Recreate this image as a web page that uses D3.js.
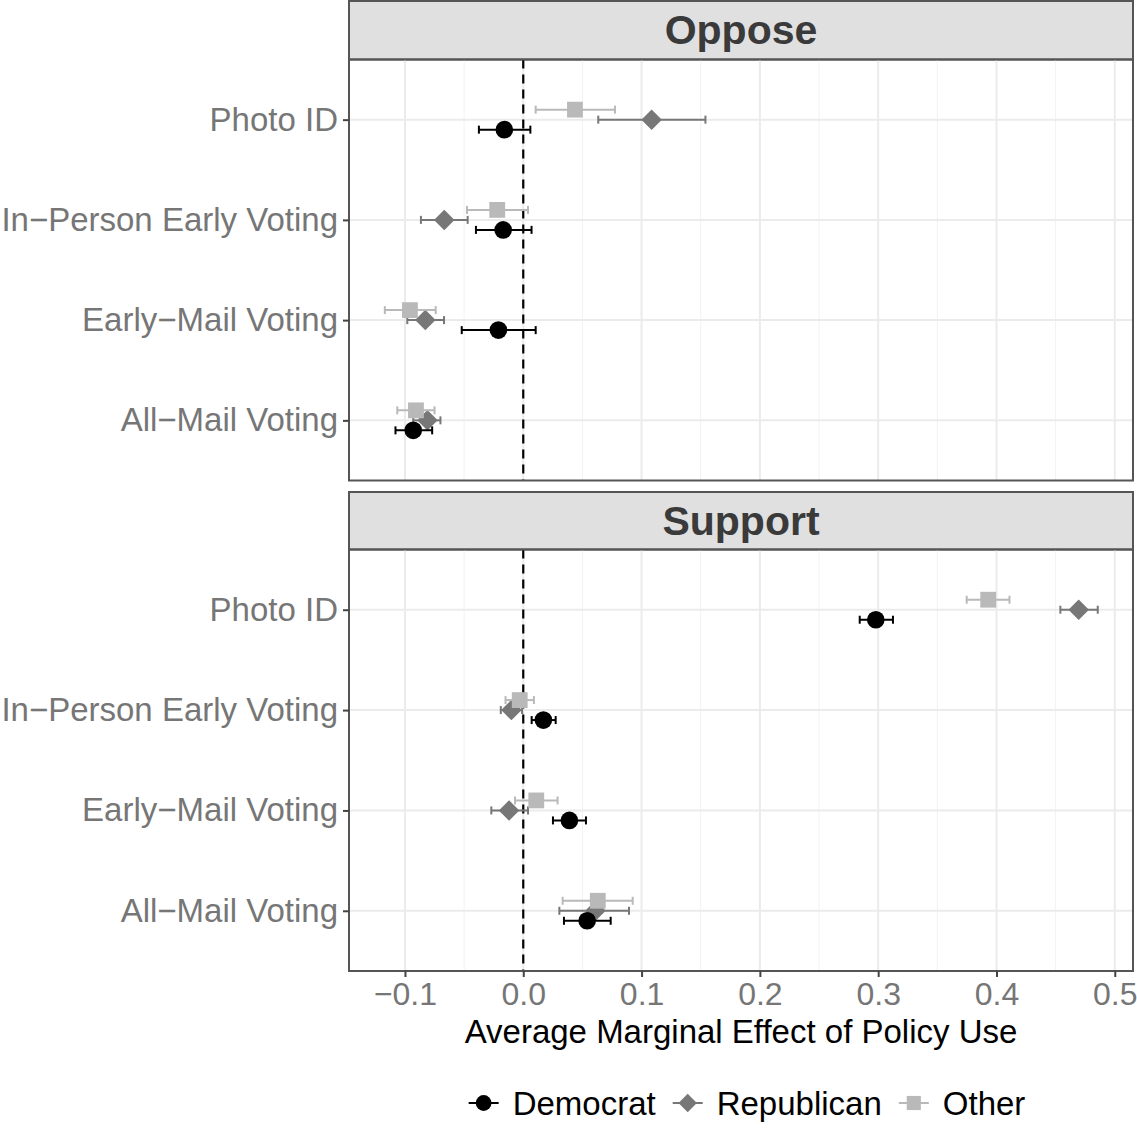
<!DOCTYPE html>
<html>
<head>
<meta charset="utf-8">
<script src="https://cdn.jsdelivr.net/npm/d3@7"></script>
<style>
  body { margin: 0; background: #fff; }
  svg { display: block; font-family: "Liberation Sans", Arial, Helvetica, sans-serif; }
</style>
</head>
<body>
<svg id="chart" width="1137" height="1132"></svg>
<script>
// 数据
const categories = ["Photo ID", "In\u2212Person Early Voting", "Early\u2212Mail Voting", "All\u2212Mail Voting"];
const parties = ["Democrat", "Republican", "Other"];
const panels = ["Oppose", "Support"];
const xTicks = [-0.1, 0.0, 0.1, 0.2, 0.3, 0.4, 0.5];

// Oppose
const opposeDemocrat = [-0.016, -0.017, -0.021, -0.093];
const opposeDemocratLow = [-0.0375, -0.040, -0.052, -0.108];
const opposeDemocratHigh = [0.006, 0.007, 0.0105, -0.077];
const opposeRepublican = [0.1085, -0.0668, -0.0828, -0.081];
const opposeRepublicanLow = [0.0634, -0.0865, -0.098, -0.093];
const opposeRepublicanHigh = [0.154, -0.047, -0.067, -0.070];
const opposeOther = [0.0437, -0.022, -0.0958, -0.0907];
const opposeOtherLow = [0.0105, -0.0476, -0.117, -0.1065];
const opposeOtherHigh = [0.0775, 0.004, -0.074, -0.075];

// Support
const supportDemocrat = [0.298, 0.017, 0.039, 0.054];
const supportDemocratLow = [0.2844, 0.0071, 0.0251, 0.0344];
const supportDemocratHigh = [0.3125, 0.0274, 0.053, 0.0739];
const supportRepublican = [0.4695, -0.010, -0.012, 0.061];
const supportRepublicanLow = [0.454, -0.019, -0.027, 0.0305];
const supportRepublicanHigh = [0.4856, -0.001, 0.004, 0.0894];
const supportOther = [0.393, -0.003, 0.011, 0.063];
const supportOtherLow = [0.3748, -0.015, -0.007, 0.0333];
const supportOtherHigh = [0.411, 0.009, 0.029, 0.0925];

const seriesTable = {
    Oppose: {
        Democrat: [opposeDemocrat, opposeDemocratLow, opposeDemocratHigh],
        Republican: [opposeRepublican, opposeRepublicanLow, opposeRepublicanHigh],
        Other: [opposeOther, opposeOtherLow, opposeOtherHigh]
    },
    Support: {
        Democrat: [supportDemocrat, supportDemocratLow, supportDemocratHigh],
        Republican: [supportRepublican, supportRepublicanLow, supportRepublicanHigh],
        Other: [supportOther, supportOtherLow, supportOtherHigh]
    }
};

const colors = { Democrat: "#000000", Republican: "#777777", Other: "#b9b9b9" };
// 菱形 = 旋转45度的正方形
const shapes = { Democrat: d3.symbolCircle, Republican: d3.symbolSquare, Other: d3.symbolSquare };
const sizes = { Democrat: 245, Republican: 210, Other: 250 };
const rot = party => party === "Republican" ? " rotate(45)" : "";

const svg = d3.select("#chart");

const left = 349, right = 1133;
const panelBoxes = [
    { name: "Oppose", stripTop: 1, top: 59.5, bottom: 480.5 },
    { name: "Support", stripTop: 492, top: 549.5, bottom: 971 }
];

const x = d3.scaleLinear().domain([-0.1473, 0.5154]).range([left, right]);
const dodge = d3.scalePoint().domain(parties).range([10, -10]);
const fmt = d3.format(".1f");
const minorTicks = d3.range(-0.15, 0.55, 0.1).map(v => +v.toFixed(2)).filter(v => x(v) > left && x(v) < right);

panelBoxes.forEach(p => {
    const y = d3.scalePoint().domain(categories).range([p.top, p.bottom]).padding(0.6);
    const g = svg.append("g");

    // 条带
    g.append("rect")
        .attr("x", left).attr("y", p.stripTop)
        .attr("width", right - left).attr("height", p.top - p.stripTop)
        .attr("fill", "#e0e0e0").attr("stroke", "#555").attr("stroke-width", 2);
    g.append("text")
        .attr("x", (left + right) / 2).attr("y", (p.stripTop + p.top) / 2 + 14)
        .attr("text-anchor", "middle")
        .style("font-size", "41px").style("font-weight", "bold").style("fill", "#3a3a3a")
        .text(p.name);

    // 网格线
    g.selectAll(".minor").data(minorTicks).enter().append("line")
        .attr("x1", d => x(d)).attr("x2", d => x(d))
        .attr("y1", p.top).attr("y2", p.bottom)
        .attr("stroke", "#f2f2f2").attr("stroke-width", 1);
    g.selectAll(".major").data(xTicks).enter().append("line")
        .attr("x1", d => x(d)).attr("x2", d => x(d))
        .attr("y1", p.top).attr("y2", p.bottom)
        .attr("stroke", "#ebebeb").attr("stroke-width", 2);
    g.selectAll(".hgrid").data(categories).enter().append("line")
        .attr("x1", left).attr("x2", right)
        .attr("y1", d => y(d)).attr("y2", d => y(d))
        .attr("stroke", "#ebebeb").attr("stroke-width", 2);

    // 零线
    g.append("line")
        .attr("x1", x(0)).attr("x2", x(0))
        .attr("y1", p.top).attr("y2", p.bottom)
        .attr("stroke", "#000").attr("stroke-width", 2.2)
        .attr("stroke-dasharray", "9,6");

    // 误差线与点
    const order = ["Republican", "Other", "Democrat"];
    order.forEach(party => {
        const [est, lo, hi] = seriesTable[p.name][party];
        const rows = categories.map((c, i) => ({ c, est: est[i], lo: lo[i], hi: hi[i] }));
        const yy = d => y(d.c) + dodge(party);
        const col = colors[party];
        const bars = g.append("g");
        bars.selectAll(".bar").data(rows).enter().append("line")
            .attr("x1", d => x(d.lo)).attr("x2", d => x(d.hi))
            .attr("y1", yy).attr("y2", yy)
            .attr("stroke", col).attr("stroke-width", 2);
        bars.selectAll(".capl").data(rows).enter().append("line")
            .attr("x1", d => x(d.lo)).attr("x2", d => x(d.lo))
            .attr("y1", d => yy(d) - 4).attr("y2", d => yy(d) + 4)
            .attr("stroke", col).attr("stroke-width", 2);
        bars.selectAll(".caph").data(rows).enter().append("line")
            .attr("x1", d => x(d.hi)).attr("x2", d => x(d.hi))
            .attr("y1", d => yy(d) - 4).attr("y2", d => yy(d) + 4)
            .attr("stroke", col).attr("stroke-width", 2);
        bars.selectAll(".pt").data(rows).enter().append("path")
            .attr("d", d3.symbol().type(shapes[party]).size(sizes[party]))
            .attr("transform", d => `translate(${x(d.est)},${yy(d)})` + rot(party))
            .attr("fill", col);
    });

    // 边框
    g.append("rect")
        .attr("x", left).attr("y", p.top)
        .attr("width", right - left).attr("height", p.bottom - p.top)
        .attr("fill", "none").attr("stroke", "#555").attr("stroke-width", 2);

    // Y 轴
    const yAxis = g.append("g")
        .attr("transform", `translate(${left},0)`)
        .call(d3.axisLeft(y).tickSize(6).tickPadding(5));
    yAxis.select(".domain").remove();
    yAxis.selectAll(".tick line").attr("stroke", "#444").attr("stroke-width", 2);
    yAxis.selectAll(".tick text")
        .style("font-size", "33px").style("fill", "#767676")
        .style("font-family", "'Liberation Sans', Arial, sans-serif");

    // X 轴 (仅底部)
    if (p.name === "Support") {
        const xAxis = g.append("g")
            .attr("transform", `translate(0,${p.bottom})`)
            .call(d3.axisBottom(x).tickValues(xTicks).tickFormat(fmt).tickSize(6).tickPadding(5));
        xAxis.select(".domain").remove();
        xAxis.selectAll(".tick line").attr("stroke", "#444").attr("stroke-width", 2);
        xAxis.selectAll(".tick text")
            .style("font-size", "32px").style("fill", "#767676")
            .style("font-family", "'Liberation Sans', Arial, sans-serif");
    }
});

// 轴标题
svg.append("text")
    .attr("x", (left + right) / 2).attr("y", 1043)
    .attr("text-anchor", "middle")
    .style("font-size", "33px").style("fill", "#000")
    .text("Average Marginal Effect of Policy Use");

// 图例
const legend = svg.append("g");
const keyW = 30, gap = 14, itemGap = 17;
let cursor = 0;
parties.forEach(party => {
    const item = legend.append("g");
    item.append("line")
        .attr("x1", 0).attr("x2", keyW).attr("y1", 0).attr("y2", 0)
        .attr("stroke", colors[party]).attr("stroke-width", 2);
    item.append("path")
        .attr("d", d3.symbol().type(shapes[party]).size(sizes[party] * 0.8))
        .attr("transform", `translate(${keyW / 2},0)` + rot(party))
        .attr("fill", colors[party]);
    const t = item.append("text")
        .attr("x", keyW + gap).attr("y", 12)
        .style("font-size", "33px").style("fill", "#000")
        .text(party);
    const w = keyW + gap + t.node().getComputedTextLength();
    item.attr("transform", `translate(${cursor},1103)`);
    cursor += w + itemGap;
});
const totalW = cursor - itemGap;
legend.attr("transform", `translate(${(left + right) / 2 - totalW / 2 + 6},0)`);
</script>
</body>
</html>
